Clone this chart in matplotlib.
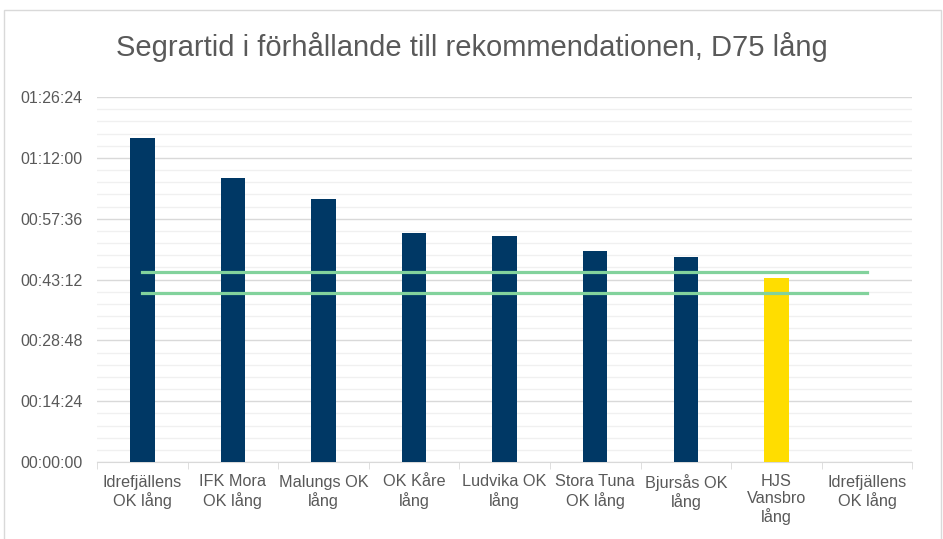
import numpy as np
from matplotlib import pyplot as plt
from matplotlib.ticker import FuncFormatter, MultipleLocator
from matplotlib.patches import Rectangle

plt.rcParams['font.family'] = ['Liberation Sans', 'DejaVu Sans']

clubs = ['Idrefjällens\nOK lång', 'IFK Mora\nOK lång', 'Malungs OK\nlång', 'OK Kåre\nlång',
         'Ludvika OK\nlång', 'Stora Tuna\nOK lång', 'Bjursås OK\nlång', 'HJS\nVansbro\nlång',
         'Idrefjällens\nOK lång']
winner_times = ['01:16:46', '01:07:18', '01:02:15', '00:54:12', '00:53:30',
                '00:49:50', '00:48:27', '00:43:30', None]
rec_max = '00:45:00'
rec_min = '00:40:00'
highlight = 'HJS\nVansbro\nlång'


def to_sec(t):
    if t is None:
        return np.nan
    h, m, s = t.split(':')
    return int(h) * 3600 + int(m) * 60 + int(s)


def fmt(v, pos):
    v = int(round(v))
    return '%02d:%02d:%02d' % (v // 3600, (v % 3600) // 60, v % 60)


secs = np.array([to_sec(t) for t in winner_times])
colors = ['#ffdd00' if c == highlight else '#003865' for c in clubs]
x = np.arange(len(clubs))

fig = plt.figure(figsize=(9.43, 5.39), dpi=100)
ax = fig.add_axes([97 / 943, 1 - 462 / 539, (912.6 - 97.3) / 943, 365 / 539])

ax.bar(x, np.nan_to_num(secs), width=0.27, color=colors, zorder=3)
ax.plot(x, [to_sec(rec_max)] * len(x), color='#82d29c', lw=2.3, zorder=4)
ax.plot(x, [to_sec(rec_min)] * len(x), color='#82d29c', lw=2.3, zorder=4)

ax.set_xlim(-0.5, len(clubs) - 0.5)
ax.set_ylim(0, 5184)
ax.yaxis.set_major_locator(MultipleLocator(864))
ax.yaxis.set_minor_locator(MultipleLocator(172.8))
ax.yaxis.set_major_formatter(FuncFormatter(fmt))
ax.grid(axis='y', which='major', color='#d9d9d9', lw=1, zorder=0)
ax.grid(axis='y', which='minor', color='#f0f0f0', lw=1, zorder=0)

ax.set_xticks(x)
ax.set_xticklabels(clubs, fontsize=11.7, color='#595959', linespacing=1.15)
ax.set_xticks(np.arange(len(clubs) + 1) - 0.5, minor=True)
ax.tick_params(axis='x', which='major', length=0, pad=9)
ax.tick_params(axis='x', which='minor', length=5, color='#d9d9d9')
ax.tick_params(axis='y', which='both', length=0, labelsize=11.5, labelcolor='#595959', pad=10.5)

for s in ['top', 'right', 'left']:
    ax.spines[s].set_visible(False)
ax.spines['bottom'].set_color('#d9d9d9')

fig.text(0.5, 1 - 47 / 539, 'Segrartid i förhållande till rekommendationen, D75 lång',
         ha='center', va='center', fontsize=21, color='#595959')

fig.patches.append(Rectangle((3.5 / 943, -0.1), 937.5 / 943, 1.1 - 10.5 / 539,
                             transform=fig.transFigure, fill=False, edgecolor='#d9d9d9', lw=1))

fig.savefig('out.png', dpi=100)
